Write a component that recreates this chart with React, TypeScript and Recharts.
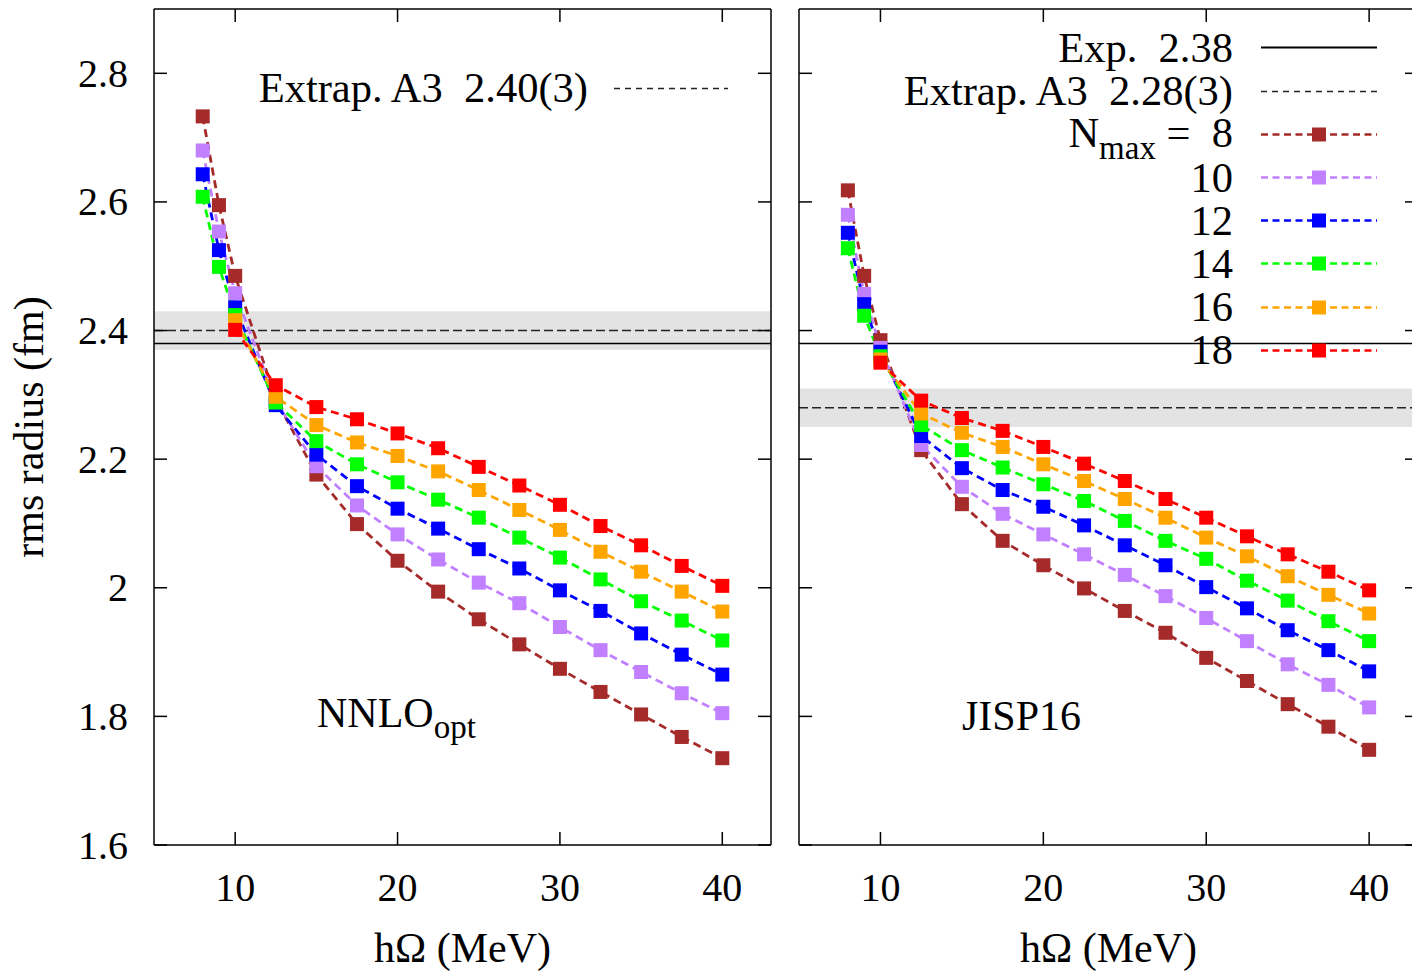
import React from 'react'
import { LineChart, Line, XAxis, YAxis, ReferenceLine, ReferenceArea, Legend } from 'recharts'

// hbar*Omega (MeV) grid of the calculations
const hw = [8, 9, 10, 12.5, 15, 17.5, 20, 22.5, 25, 27.5, 30, 32.5, 35, 37.5, 40]
const nmax = [8, 10, 12, 14, 16, 18]
const nmaxColors = ['#a52a2a', '#c080ff', '#0000ff', '#00ff00', '#ffa500', '#ff0000']

// rms radius (fm), NNLOopt
const nnloN8 = [2.733, 2.595, 2.485, 2.293, 2.176, 2.099, 2.042, 1.994, 1.951, 1.912, 1.874, 1.838, 1.803, 1.768, 1.735]
const nnloN10 = [2.68, 2.554, 2.458, 2.291, 2.189, 2.128, 2.083, 2.044, 2.008, 1.976, 1.939, 1.903, 1.869, 1.836, 1.805]
const nnloN12 = [2.643, 2.525, 2.436, 2.284, 2.207, 2.158, 2.123, 2.092, 2.06, 2.03, 1.996, 1.964, 1.929, 1.896, 1.865]
const nnloN14 = [2.608, 2.499, 2.424, 2.288, 2.228, 2.192, 2.164, 2.137, 2.109, 2.078, 2.047, 2.013, 1.979, 1.949, 1.918]
const nnloN16 = [null, null, 2.416, 2.297, 2.253, 2.226, 2.205, 2.181, 2.152, 2.121, 2.09, 2.056, 2.025, 1.994, 1.963]
const nnloN18 = [null, null, 2.401, 2.315, 2.281, 2.262, 2.24, 2.217, 2.188, 2.159, 2.129, 2.096, 2.066, 2.034, 2.003]

// rms radius (fm), JISP16
const jispN8 = [2.618, 2.485, 2.385, 2.214, 2.13, 2.073, 2.035, 1.999, 1.964, 1.93, 1.891, 1.855, 1.819, 1.784, 1.748]
const jispN10 = [2.58, 2.457, 2.373, 2.222, 2.157, 2.115, 2.083, 2.052, 2.02, 1.987, 1.953, 1.917, 1.881, 1.849, 1.814]
const jispN12 = [2.552, 2.441, 2.367, 2.236, 2.186, 2.152, 2.126, 2.097, 2.066, 2.035, 2.001, 1.968, 1.934, 1.903, 1.87]
const jispN14 = [2.528, 2.423, 2.36, 2.253, 2.214, 2.187, 2.161, 2.135, 2.104, 2.073, 2.045, 2.011, 1.98, 1.948, 1.917]
const jispN16 = [null, null, 2.355, 2.271, 2.241, 2.219, 2.192, 2.166, 2.138, 2.109, 2.078, 2.049, 2.018, 1.989, 1.96]
const jispN18 = [null, null, 2.35, 2.291, 2.264, 2.244, 2.219, 2.193, 2.166, 2.138, 2.109, 2.08, 2.052, 2.025, 1.996]

const xTicks = [10, 20, 30, 40]
const yTicks = [1.6, 1.8, 2, 2.2, 2.4, 2.6, 2.8]

const expRadius = 2.38
const nnloExtrap = 2.4
const jispExtrap = 2.28
const extrapErr = 0.03

const FONT = '"Liberation Serif", "Times New Roman", serif'
const TICK = 13
const ink = '#000'

function toRows(series: (number | null)[][]) {
  return hw.map((x, i) => {
    const row: Record<string, number | null> = { hw: x }
    nmax.forEach((n, k) => {
      row[`n${n}`] = series[k][i]
    })
    return row
  })
}

const nnloRows = toRows([nnloN8, nnloN10, nnloN12, nnloN14, nnloN16, nnloN18])
const jispRows = toRows([jispN8, jispN10, jispN12, jispN14, jispN16, jispN18])

const bottomTick = (labels: boolean) => (p: any) => (
  <g key={`b-${p.index}`}>
    <line x1={p.x} y1={p.y} x2={p.x} y2={p.y - TICK} stroke={ink} strokeWidth={1.5} />
    {labels && (
      <text x={p.x} y={p.y + 42} textAnchor="middle" dominantBaseline="central" fontFamily={FONT} fontSize={40} fill={ink}>
        {p.payload.value}
      </text>
    )}
  </g>
)

const topTick = (p: any) => (
  <line key={`t-${p.index}`} x1={p.x} y1={p.y} x2={p.x} y2={p.y + TICK} stroke={ink} strokeWidth={1.5} />
)

const leftTick = (labels: boolean) => (p: any) => (
  <g key={`l-${p.index}`}>
    <line x1={p.x} y1={p.y} x2={p.x + TICK} y2={p.y} stroke={ink} strokeWidth={1.5} />
    {labels && (
      <text x={p.x - 26} y={p.y} textAnchor="end" dominantBaseline="central" fontFamily={FONT} fontSize={40} fill={ink}>
        {p.payload.value}
      </text>
    )}
  </g>
)

const rightTick = (p: any) => (
  <line key={`r-${p.index}`} x1={p.x} y1={p.y} x2={p.x - TICK} y2={p.y} stroke={ink} strokeWidth={1.5} />
)

const squareDot = (color: string, n: number) => (p: any) => {
  if (p.cx == null || p.cy == null || p.value == null) return <g key={`d${n}-${p.index}`} />
  return <rect key={`d${n}-${p.index}`} x={p.cx - 7} y={p.cy - 7} width={14} height={14} fill={color} />
}

const axisLine = { stroke: ink, strokeWidth: 1.5 }

function LegendLine({ width, color, dash, strokeWidth, marker }: any) {
  return (
    <svg width={width} height={43} style={{ flex: 'none', display: 'block' }}>
      <line x1={0} x2={width} y1={21.5} y2={21.5} stroke={color} strokeWidth={strokeWidth} strokeDasharray={dash} />
      {marker && <rect x={width / 2 - 7} y={14.5} width={14} height={14} fill={color} />}
    </svg>
  )
}

const rowStyle: React.CSSProperties = { display: 'flex', alignItems: 'center', height: 43.2 }
const labelStyle = (w: number): React.CSSProperties => ({
  width: w,
  flex: 'none',
  textAlign: 'right',
  whiteSpace: 'pre',
  lineHeight: '34px',
})

function NnloLegend() {
  return (
    <div style={{ fontFamily: FONT, fontSize: 42.5, color: ink }}>
      <div style={rowStyle}>
        <span style={labelStyle(388)}>{`Extrap. A3  ${nnloExtrap.toFixed(2)}(${Math.round(extrapErr * 100)})`}</span>
        <span style={{ width: 26, flex: 'none' }} />
        <LegendLine width={114} color="#222" dash="6 5" strokeWidth={1.3} />
      </div>
    </div>
  )
}

function JispLegend() {
  return (
    <div style={{ fontFamily: FONT, fontSize: 42.5, color: ink }}>
      <div style={rowStyle}>
        <span style={labelStyle(353)}>{`Exp.  ${expRadius.toFixed(2)}`}</span>
        <span style={{ width: 28, flex: 'none' }} />
        <LegendLine width={116} color={ink} strokeWidth={1.8} />
      </div>
      <div style={rowStyle}>
        <span style={labelStyle(353)}>{`Extrap. A3  ${jispExtrap.toFixed(2)}(${Math.round(extrapErr * 100)})`}</span>
        <span style={{ width: 28, flex: 'none' }} />
        <LegendLine width={116} color="#222" dash="6 5" strokeWidth={1.3} />
      </div>
      {nmax.map((n, k) => (
        <div style={rowStyle} key={n}>
          <span style={labelStyle(353)}>
            {k === 0 ? (
              <>
                N<span style={{ fontSize: 33, position: 'relative', top: 12 }}>max</span>
                {` =  ${n}`}
              </>
            ) : (
              `${n}`
            )}
          </span>
          <span style={{ width: 28, flex: 'none' }} />
          <LegendLine width={116} color={nmaxColors[k]} dash="7 4.5" strokeWidth={2.4} marker />
        </div>
      ))}
    </div>
  )
}

function Panel({ rows, width, yLeftW, yRightW, extrap, labels, legend, legendPos, children }: any) {
  return (
    <LineChart width={width} height={972} data={rows} margin={{ top: 0, right: 0, bottom: 0, left: 0 }}>
      <XAxis
        dataKey="hw"
        type="number"
        domain={[5, 43]}
        ticks={xTicks}
        interval={0}
        allowDataOverflow
        height={127}
        tickSize={0}
        tickMargin={0}
        tickLine={false}
        axisLine={axisLine}
        tick={bottomTick(true)}
      />
      <XAxis
        xAxisId="top"
        orientation="top"
        dataKey="hw"
        type="number"
        domain={[5, 43]}
        ticks={xTicks}
        interval={0}
        allowDataOverflow
        height={9}
        tickSize={0}
        tickMargin={0}
        tickLine={false}
        axisLine={axisLine}
        tick={topTick}
      />
      <YAxis
        type="number"
        domain={[1.6, 2.9]}
        ticks={yTicks}
        interval={0}
        allowDataOverflow
        width={yLeftW}
        tickSize={0}
        tickMargin={0}
        tickLine={false}
        axisLine={axisLine}
        tick={leftTick(labels)}
      />
      <YAxis
        yAxisId="right"
        orientation="right"
        type="number"
        domain={[1.6, 2.9]}
        ticks={yTicks}
        interval={0}
        allowDataOverflow
        width={yRightW}
        tickSize={0}
        tickMargin={0}
        tickLine={false}
        axisLine={axisLine}
        tick={rightTick}
      />
      <ReferenceArea y1={extrap - extrapErr} y2={extrap + extrapErr} fill="#e3e3e3" fillOpacity={1} stroke="none" />
      <ReferenceLine y={expRadius} stroke={ink} strokeWidth={1.5} />
      <ReferenceLine y={extrap} stroke="#222" strokeWidth={1.5} strokeDasharray="9 4" />
      {nmax.map((n, k) => (
        <Line
          key={n}
          dataKey={`n${n}`}
          name={`${n}`}
          type="linear"
          stroke={nmaxColors[k]}
          strokeWidth={2.8}
          strokeDasharray="8 5"
          dot={squareDot(nmaxColors[k], n)}
          activeDot={false}
          isAnimationActive={false}
        />
      ))}
      <Legend
        layout="horizontal"
        verticalAlign="middle"
        align="center"
        wrapperStyle={{ left: legendPos.left, top: legendPos.top, width: 'auto', margin: 0 }}
        content={legend}
      />
      {children}
    </LineChart>
  )
}

export default function App() {
  return (
    <div style={{ position: 'fixed', left: 0, top: 0, width: 1412, height: 972, overflow: 'hidden', background: '#fff' }}>
      <div style={{ position: 'absolute', left: 0, top: 0 }}>
        <Panel
          rows={nnloRows}
          width={785}
          yLeftW={154}
          yRightW={14}
          extrap={nnloExtrap}
          labels
          legend={() => <NnloLegend />}
          legendPos={{ left: 200, top: 66.5 }}
        >
          <text x={43} y={427} transform="rotate(-90 43 427)" textAnchor="middle" fontFamily={FONT} fontSize={42} fill={ink}>
            rms radius (fm)
          </text>
          <text x={462.5} y={962} textAnchor="middle" fontFamily={FONT} fontSize={42} fill={ink}>
            hΩ (MeV)
          </text>
          <text x={317} y={727} fontFamily={FONT} fontSize={42} fill={ink}>
            NNLO<tspan fontSize={33} dy={11}>opt</tspan>
          </text>
        </Panel>
      </div>
      <div style={{ position: 'absolute', left: 785, top: 0 }}>
        <Panel
          rows={jispRows}
          width={643}
          yLeftW={14}
          yRightW={10}
          extrap={jispExtrap}
          labels={false}
          legend={() => <JispLegend />}
          legendPos={{ left: 95, top: 26.4 }}
        >
          <text x={323.5} y={962} textAnchor="middle" fontFamily={FONT} fontSize={42} fill={ink}>
            hΩ (MeV)
          </text>
          <text x={177} y={730} fontFamily={FONT} fontSize={42} fill={ink}>
            JISP16
          </text>
        </Panel>
      </div>
    </div>
  )
}
